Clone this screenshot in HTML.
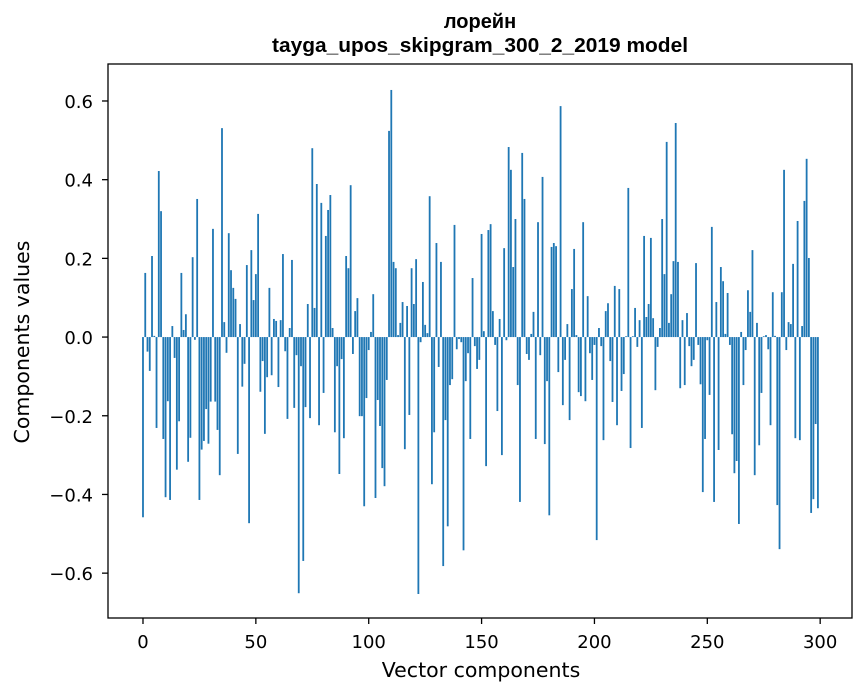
<!DOCTYPE html>
<html><head><meta charset="utf-8">
<style>
html,body{margin:0;padding:0;background:#fff;}
svg{display:block;font-family:"DejaVu Sans","Liberation Sans","Noto Sans CJK SC",sans-serif;}
</style></head>
<body>
<svg id="chart" width="867" height="696" viewBox="0 0 867 696" xmlns="http://www.w3.org/2000/svg">
<text x="480" y="28" text-anchor="middle" font-size="20" font-weight="bold" font-family="Liberation Sans, sans-serif">лорейн</text>
<text x="480" y="52" text-anchor="middle" font-size="20" font-weight="bold" font-family="Liberation Sans, sans-serif" textLength="416" lengthAdjust="spacingAndGlyphs">tayga_upos_skipgram_300_2_2019 model</text>
<g id="bars"></g>
<rect x="108" y="64" width="744" height="554" fill="none" stroke="#000" stroke-width="1.3"/>
<g id="xticks"></g>
<g id="yticks"></g>
<text x="481" y="677" text-anchor="middle" font-size="20.5">Vector components</text>
<text transform="translate(29,342) rotate(-90)" text-anchor="middle" font-size="20.5">Components values</text>
</svg>
<script>
const values = [
-0.458,0.163,-0.037,-0.086,0.206,0.003,-0.231,0.422,0.32,-0.259,
-0.407,-0.163,-0.414,0.028,-0.053,-0.337,-0.214,0.163,0.018,0.058,
-0.317,-0.256,0.203,-0.007,0.351,-0.414,-0.286,-0.264,-0.183,-0.271,
-0.164,0.275,-0.164,-0.236,-0.351,0.531,0.038,-0.04,0.264,0.17,
0.125,0.097,-0.297,0.033,-0.126,-0.068,0.183,-0.473,0.221,0.094,
0.16,0.313,-0.139,-0.061,-0.246,-0.102,0.125,-0.097,0.046,0.041,
-0.127,0.043,0.211,-0.036,-0.208,0.023,0.196,-0.18,-0.046,-0.651,
-0.074,-0.569,-0.178,0.084,-0.206,0.48,0.074,0.389,-0.224,0.341,
-0.142,0.257,0.323,0.361,0.023,-0.242,-0.074,-0.348,-0.056,-0.257,
0.206,0.175,0.386,-0.043,0.066,0.099,-0.201,-0.201,-0.43,-0.155,
-0.033,0.013,0.109,-0.409,-0.16,-0.226,-0.333,-0.379,-0.109,0.524,
0.628,0.191,0.175,0.005,0.036,0.089,-0.285,0.079,-0.198,0.175,
0.084,0.198,-0.653,-0.013,0.14,0.031,0.01,0.358,-0.374,-0.242,
0.239,-0.076,0.191,-0.582,-0.211,-0.481,-0.122,-0.107,0.285,-0.031,
-0.005,-0.013,-0.542,-0.112,-0.041,-0.259,0.15,-0.023,-0.081,-0.058,
0.262,0.015,-0.328,0.272,0.287,0.066,-0.02,-0.188,0.046,-0.3,
0.226,-0.008,0.483,0.425,0.178,0.3,-0.122,-0.419,0.468,0.351,
-0.043,-0.058,0.008,0.064,-0.259,0.292,-0.046,0.407,-0.272,-0.112,
-0.453,0.229,0.239,0.231,-0.089,0.587,-0.173,-0.058,0.033,-0.211,
0.122,0.224,0.005,-0.14,-0.15,0.292,-0.163,0.104,-0.041,-0.109,
-0.02,-0.516,0.023,-0.023,-0.262,0.066,0.086,-0.061,-0.165,0.13,
-0.224,0.122,-0.137,-0.094,0.002,0.379,-0.282,0.002,0.074,-0.025,
0.043,-0.231,0.257,0.051,0.084,0.252,0.048,-0.135,-0.025,0.023,
0.3,0.16,0.496,0.036,0.109,0.193,0.544,0.191,-0.13,0.043,
-0.122,0.061,-0.023,-0.074,-0.058,0.188,-0.02,-0.12,-0.394,-0.259,
-0.008,-0.147,0.28,-0.419,0.089,-0.287,0.178,0.142,0.008,0.112,
-0.02,-0.247,-0.346,-0.315,-0.475,0.013,-0.122,-0.033,0.119,0.064,
0.221,-0.351,0.036,-0.275,-0.142,0.002,0.005,-0.031,-0.224,0.114,
0.003,-0.427,-0.539,0.114,0.425,-0.033,0.038,0.033,0.186,-0.257,
0.295,-0.262,0.028,0.346,0.453,0.201,-0.447,-0.412,-0.221,-0.435
];
const xTickValues = [0,50,100,150,200,250,300];
const yTickValues = [-0.6,-0.4,-0.2,0.0,0.2,0.4,0.6];
const yTickLabels = ["\u22120.6","\u22120.4","\u22120.2","0.0","0.2","0.4","0.6"];

const NS = "http://www.w3.org/2000/svg";
const X0 = 108, X1 = 852, Y0 = 64, Y1 = 618;
const xMin = -15.5, xMax = 314.1, yMin = -0.714, yMax = 0.694;
function xs(v){ return X0 + (v - xMin) / (xMax - xMin) * (X1 - X0); }
function ys(v){ return Y1 - (v - yMin) / (yMax - yMin) * (Y1 - Y0); }

const barsG = document.getElementById('bars');
values.forEach(function(v, i){
  const r = document.createElementNS(NS, 'rect');
  const xl = xs(i - 0.4), xr = xs(i + 0.4);
  const yt = ys(Math.max(v, 0)), yb = ys(Math.min(v, 0));
  r.setAttribute('x', xl);
  r.setAttribute('width', xr - xl);
  r.setAttribute('y', yt);
  r.setAttribute('height', Math.max(yb - yt, 0.01));
  r.setAttribute('fill', '#1f77b4');
  
  
  barsG.appendChild(r);
});

const xg = document.getElementById('xticks');
xTickValues.forEach(function(t){
  const x = xs(t);
  const l = document.createElementNS(NS, 'line');
  l.setAttribute('x1', x); l.setAttribute('x2', x);
  l.setAttribute('y1', Y1); l.setAttribute('y2', Y1 + 6);
  l.setAttribute('stroke', '#000');
  l.setAttribute('stroke-width', '1.3');
  
  
  xg.appendChild(l);
  const tx = document.createElementNS(NS, 'text');
  tx.setAttribute('x', x); tx.setAttribute('y', 648);
  tx.setAttribute('text-anchor', 'middle');
  tx.setAttribute('font-size', '18');
  tx.textContent = String(t);
  
  
  xg.appendChild(tx);
});

const yg = document.getElementById('yticks');
yTickValues.forEach(function(t, k){
  const y = ys(t);
  const l = document.createElementNS(NS, 'line');
  l.setAttribute('x1', X0 - 6); l.setAttribute('x2', X0);
  l.setAttribute('y1', y); l.setAttribute('y2', y);
  l.setAttribute('stroke', '#000');
  l.setAttribute('stroke-width', '1.3');
  
  
  yg.appendChild(l);
  const tx = document.createElementNS(NS, 'text');
  tx.setAttribute('x', 93); tx.setAttribute('y', y + 7);
  tx.setAttribute('text-anchor', 'end');
  tx.setAttribute('font-size', '18');
  tx.textContent = yTickLabels[k];
  
  
  yg.appendChild(tx);
});
</script>
</body></html>
